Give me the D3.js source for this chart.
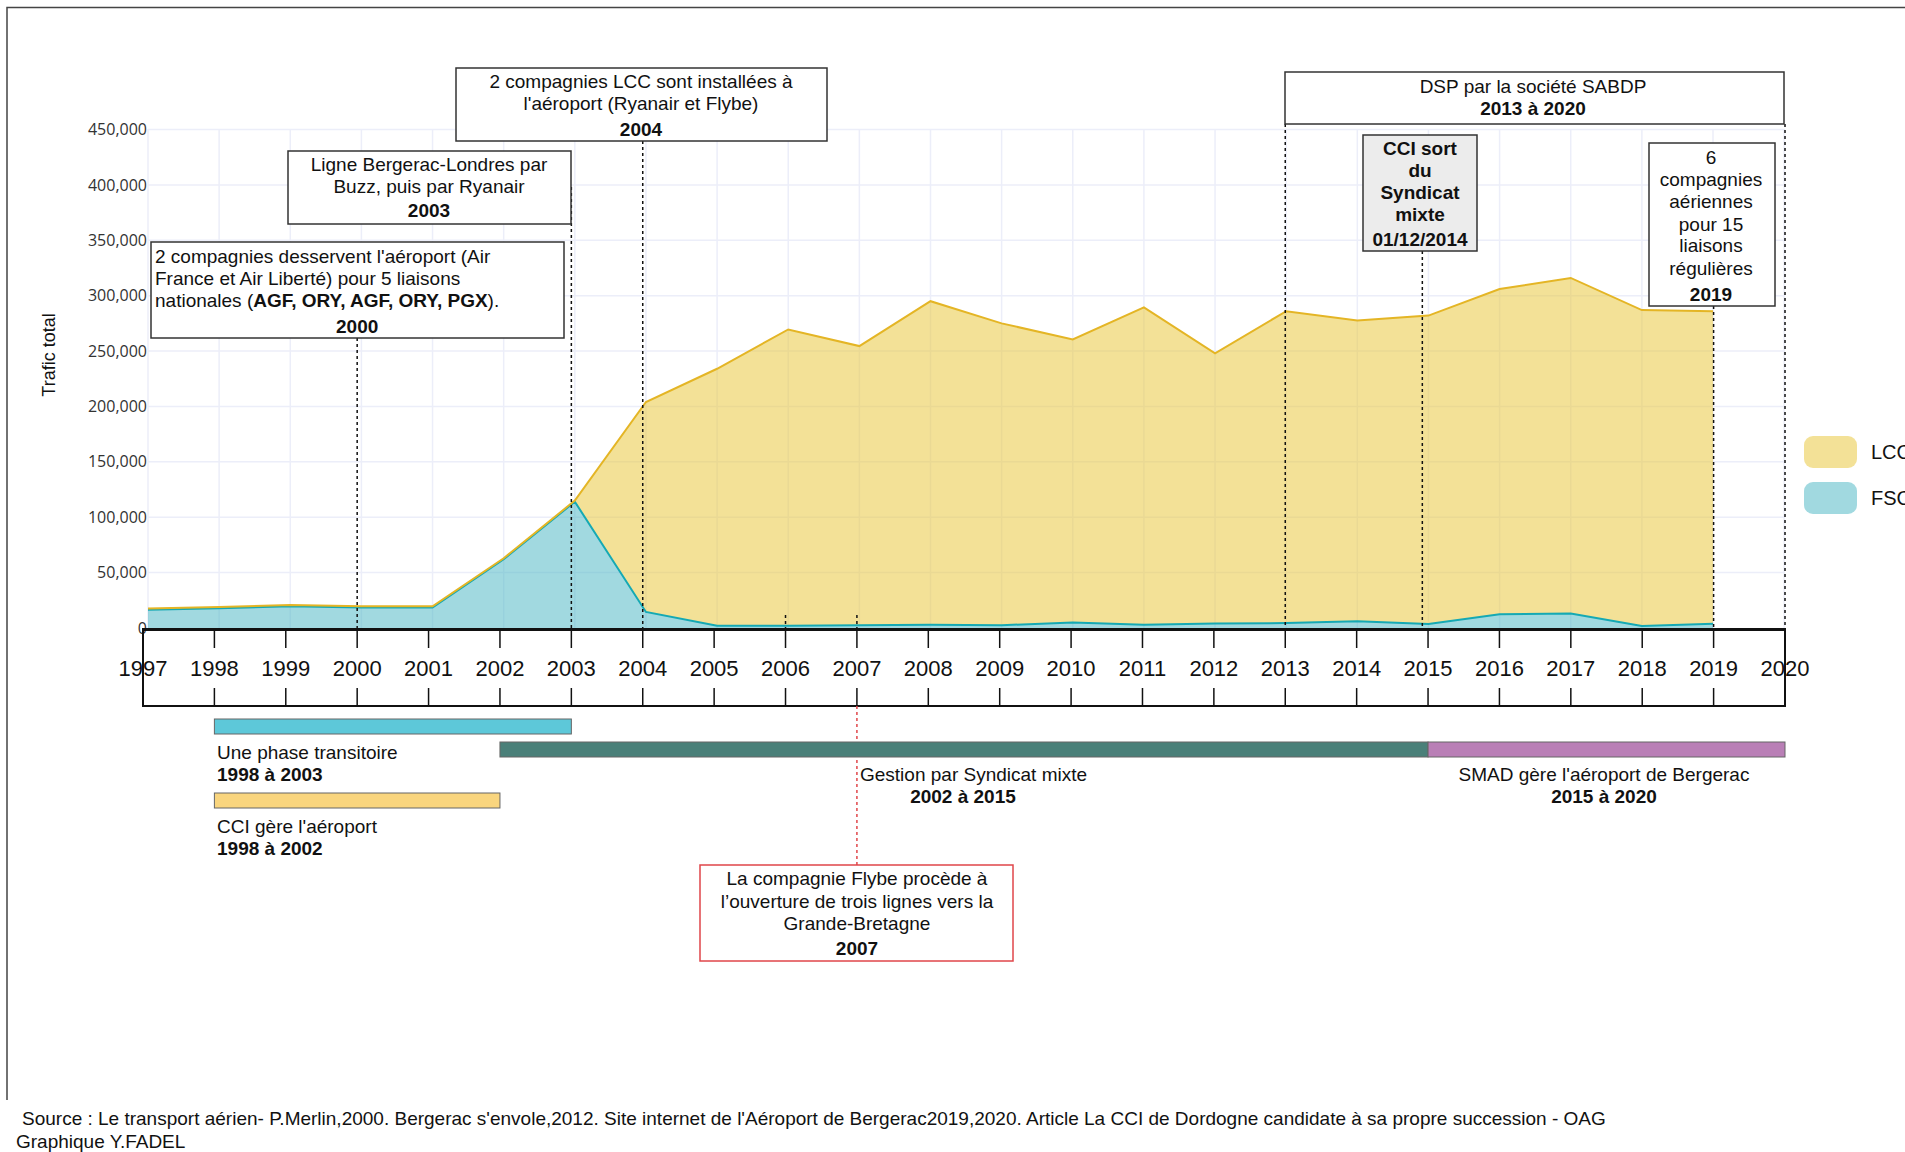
<!DOCTYPE html>
<html><head><meta charset="utf-8">
<script src="https://cdn.jsdelivr.net/npm/d3@7/dist/d3.min.js"></script>
<style>
body{margin:0;background:#fff;}
svg{display:block;font-family:"Liberation Sans",Arial,sans-serif;}
</style>
</head><body>
<svg id="c" width="1905" height="1152"></svg>
<script>
// ---------- DATA ----------
const years = [1997,1998,1999,2000,2001,2002,2003,2004,2005,2006,2007,2008,2009,2010,2011,2012,2013,2014,2015,2016,2017,2018,2019];
const fscValues = [16500,17800,19600,18500,18500,62000,114000,14500,2000,2000,2500,3000,2500,5000,3000,4000,4500,6000,3600,12500,13000,1800,3800];
const lccValues = [1000,1200,1200,1100,1100,1000,1000,189500,232000,267500,252000,292000,272500,255500,286500,244000,281500,271500,278400,293500,303000,285200,282200];
const seriesKeys = ["FSC","LCC"];
const yTickValues = [0,50000,100000,150000,200000,250000,300000,350000,400000,450000];
const axisYears = [1997,1998,1999,2000,2001,2002,2003,2004,2005,2006,2007,2008,2009,2010,2011,2012,2013,2014,2015,2016,2017,2018,2019,2020];
const eventYears = [2000,2003,2004,2013,2014.92,2019,2020];
const stubYears = [2006,2007];
const periodNames = ["Une phase transitoire","CCI gère l'aéroport","Gestion par Syndicat mixte","SMAD gère l'aéroport de Bergerac"];
const periodStart = [1998,1998,2002,2015];
const periodEnd = [2003,2002,2015,2020];
const periodLabels = ["1998 à 2003","1998 à 2002","2002 à 2015","2015 à 2020"];

// ---------- SETUP ----------
const svg = d3.select("#c");
const colors = {LCC:{fill:"rgba(231,195,47,0.5)",stroke:"#e4b525"},FSC:{fill:"rgba(67,179,193,0.5)",stroke:"#15a9b4"}};
const xA = d3.scaleLinear().domain([1997,2019]).range([148,1713]);
const xB = d3.scaleLinear().domain([1997,2020]).range([143,1785]);
const y = d3.scaleLinear().domain([0,450000]).range([628,129.5]);

// outer frame (left + top)
svg.append("path").attr("d","M7,1100 V7.5 H1905").attr("fill","none").attr("stroke","#444").attr("stroke-width",1.5);

// grid
const grid = svg.append("g");
grid.selectAll("line.h").data(yTickValues.slice(1)).join("line")
  .attr("x1",148).attr("x2",1785).attr("y1",d=>y(d)).attr("y2",d=>y(d))
  .attr("stroke","#eceef9").attr("stroke-width",1.5);
grid.selectAll("line.v").data(axisYears).join("line")
  .attr("x1",d=>xA(d)).attr("x2",d=>xA(d)).attr("y1",129).attr("y2",628)
  .attr("stroke","#eceef9").attr("stroke-width",1.5);

// y labels
const yAxis = svg.append("g").attr("transform","translate(147,0)")
  .call(d3.axisLeft(y).tickValues(yTickValues).tickFormat(d3.format(",")).tickSize(0).tickPadding(0));
yAxis.select(".domain").remove();
yAxis.selectAll("text").attr("font-family","'Open Sans',sans-serif").attr("font-size",16).attr("fill","#333");

svg.append("text").attr("transform","translate(55,355) rotate(-90)").attr("text-anchor","middle")
  .attr("font-size",18).attr("fill","#111").text("Trafic total");

// stacked areas
const rows = years.map((yr,i)=>({year:yr,FSC:fscValues[i],LCC:lccValues[i]}));
const stacked = d3.stack().keys(seriesKeys)(rows);
const area = d3.area().x(d=>xA(d.data.year)).y0(d=>y(d[0])).y1(d=>y(d[1]));
const line = d3.line().x(d=>xA(d.data.year)).y(d=>y(d[1]));
svg.selectAll("path.area").data(stacked).join("path").attr("class","area")
  .attr("d",area).attr("fill",d=>colors[d.key].fill);
svg.selectAll("path.line").data(stacked).join("path").attr("class","line")
  .attr("d",line).attr("fill","none").attr("stroke",d=>colors[d.key].stroke).attr("stroke-width",2);

// bottom axis box
const ax = svg.append("g");
ax.append("rect").attr("x",xB(1997)).attr("y",629).attr("width",xB(2020)-xB(1997)).attr("height",77)
  .attr("fill","none").attr("stroke","#111").attr("stroke-width",2);
ax.append("line").attr("x1",xB(1997)).attr("x2",xB(2020)).attr("y1",629.5).attr("y2",629.5).attr("stroke","#111").attr("stroke-width",3);
ax.selectAll("line.t1").data(axisYears).join("line").attr("x1",d=>xB(d)).attr("x2",d=>xB(d)).attr("y1",629).attr("y2",648).attr("stroke","#111").attr("stroke-width",1.5);
ax.selectAll("line.t2").data(axisYears).join("line").attr("x1",d=>xB(d)).attr("x2",d=>xB(d)).attr("y1",688).attr("y2",706).attr("stroke","#111").attr("stroke-width",1.5);
ax.selectAll("text").data(axisYears).join("text").attr("x",d=>xB(d)).attr("y",676).attr("text-anchor","middle")
  .attr("font-size",22).attr("fill","#111").text(d=>d);

// event dashed lines
const dash = (x,y1,y2,col)=>svg.append("line").attr("x1",x).attr("x2",x).attr("y1",y1).attr("y2",y2)
  .attr("stroke",col||"#111").attr("stroke-width",1.5).attr("stroke-dasharray","3,3");
const eventTop = [338,187,141,124,251,306,124];
eventYears.forEach((e,i)=>dash(xB(e),eventTop[i],629));
stubYears.forEach(e=>dash(xB(e),615,628));
dash(xB(2007),706,865,"#e0464a");

// annotation boxes
function box(x1,y1,x2,y2,fill,stroke){
  svg.append("rect").attr("x",x1).attr("y",y1).attr("width",x2-x1).attr("height",y2-y1)
    .attr("fill",fill||"#fff").attr("stroke",stroke||"#333").attr("stroke-width",1.5);
}
function lines(x,ys,texts,anchor,bolds){
  texts.forEach((t,i)=>svg.append("text").attr("x",x).attr("y",ys[i]).attr("text-anchor",anchor)
    .attr("font-size",19).attr("font-weight",bolds&&bolds[i]?"bold":"normal").attr("fill","#111").text(t));
}
// 2000
box(151,242,564,338);
lines(155,[263,285],["2 compagnies desservent l'aéroport (Air","France et Air Liberté) pour 5 liaisons"],"start");
const t3 = svg.append("text").attr("x",155).attr("y",307).attr("font-size",19).attr("fill","#111");
t3.append("tspan").text("nationales (");
t3.append("tspan").attr("font-weight","bold").text("AGF, ORY, AGF, ORY, PGX");
t3.append("tspan").text(").");
lines(xB(2000),[333],["2000"],"middle",[true]);
// 2003
box(288,151,571,224);
lines(429,[171,193,217],["Ligne Bergerac-Londres par","Buzz, puis par Ryanair","2003"],"middle",[false,false,true]);
// 2004
box(456,68,827,141);
lines(641,[88,110,136],["2 compagnies LCC sont installées à","l'aéroport (Ryanair et Flybe)","2004"],"middle",[false,false,true]);
// DSP
box(1285,72,1784,124);
lines(1533,[93,115],["DSP par la société SABDP","2013 à 2020"],"middle",[false,true]);
// CCI sort
box(1363,135,1477,251,"#ececec");
lines(1420,[155,177,199,221,246],["CCI sort","du","Syndicat","mixte","01/12/2014"],"middle",[true,true,true,true,true]);
// 2019
box(1649,143,1775,306);
lines(1711,[164,186,208,231,252,275,301],["6","compagnies","aériennes","pour 15","liaisons","régulières","2019"],"middle",[0,0,0,0,0,0,1]);
// Flybe red box
box(700,865,1013,961,"#fff","#e0464a");
lines(857,[885,908,930,955],["La compagnie Flybe procède à","l’ouverture de trois lignes vers la","Grande-Bretagne","2007"],"middle",[0,0,0,1]);

// period bars
const barY = [719,793,742,742];
const barCol = ["#5dc8d9","#f9d57e","#4a8079","#b97fb6"];
periodNames.forEach((n,i)=>{
  svg.append("rect").attr("x",xB(periodStart[i])).attr("y",barY[i]).attr("width",xB(periodEnd[i])-xB(periodStart[i])).attr("height",15)
    .attr("fill",barCol[i]).attr("stroke","#666").attr("stroke-width",1);
});
lines(217,[759,781],[periodNames[0],periodLabels[0]],"start",[0,1]);
lines(217,[833,855],[periodNames[1],periodLabels[1]],"start",[0,1]);
lines(860,[781],[periodNames[2]],"start");
lines(963,[803],[periodLabels[2]],"middle",[1]);
lines(1604,[781,803],[periodNames[3],periodLabels[3]],"middle",[0,1]);

// legend
const legend = [{k:"LCC",y:436},{k:"FSC",y:482}];
legend.forEach(l=>{
  svg.append("rect").attr("x",1804).attr("y",l.y).attr("width",53).attr("height",32).attr("rx",9)
    .attr("fill",colors[l.k].fill);
  svg.append("text").attr("x",1871).attr("y",l.y+23).attr("font-size",20).attr("fill","#111").text(l.k);
});

// source
svg.append("text").attr("x",22).attr("y",1125).attr("font-size",19).attr("fill","#111")
  .text("Source : Le transport aérien- P.Merlin,2000. Bergerac s'envole,2012. Site internet de l'Aéroport de Bergerac2019,2020. Article La CCI de Dordogne candidate à sa propre succession - OAG");
svg.append("text").attr("x",16).attr("y",1148).attr("font-size",19).attr("fill","#111").text("Graphique Y.FADEL");
</script>
</body></html>
